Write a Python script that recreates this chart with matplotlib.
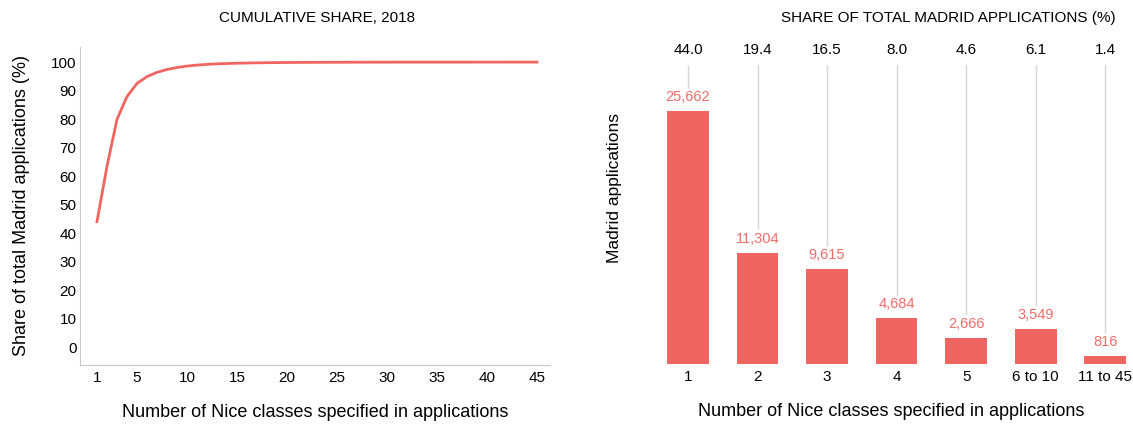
import matplotlib.pyplot as plt

plt.rcParams['font.family'] = ['Liberation Sans', 'DejaVu Sans']

# cumulative share of Madrid applications by number of classes (left)
classes = list(range(1, 46))
cum_share = [44.0, 63.4, 79.9, 87.9, 92.5, 94.9, 96.4, 97.4, 98.1, 98.6,
             98.95, 99.2, 99.38, 99.5, 99.6, 99.68, 99.74, 99.79, 99.83, 99.86,
             99.88, 99.9, 99.92, 99.93, 99.94, 99.95, 99.96, 99.965, 99.97, 99.975,
             99.98, 99.98, 99.985, 99.985, 99.99, 99.99, 99.99, 99.992, 99.994, 99.995,
             99.996, 99.997, 99.998, 99.999, 100.0]

# applications per class group (right)
groups = ['1', '2', '3', '4', '5', '6 to 10', '11 to 45']
apps = [25662, 11304, 9615, 4684, 2666, 3549, 816]
shares = [44.0, 19.4, 16.5, 8.0, 4.6, 6.1, 1.4]

red = '#ef6561'
label_red = '#f26c68'
grey = '#c8c8c8'

W, H = 1133, 426
fig = plt.figure(figsize=(W / 100, H / 100), dpi=100)

# ---- left: cumulative share
ax1 = fig.add_axes([0.0706, 0.1432, 0.4148, 0.7465])
ax1.plot(classes, cum_share, color=red, lw=2)
ax1.set_xlim(-0.7, 46.3)
ax1.set_ylim(-6.3, 105.3)
ax1.set_xticks([1, 5, 10, 15, 20, 25, 30, 35, 40, 45])
ax1.set_yticks(range(0, 101, 10))
ax1.tick_params(length=0, labelsize=11)
ax1.tick_params(axis='x', pad=4)
ax1.tick_params(axis='y', pad=2.5)
for s in ['top', 'right']:
    ax1.spines[s].set_visible(False)
for s in ['left', 'bottom']:
    ax1.spines[s].set_color(grey)
fig.text(317 / W, 1 - 18 / H, 'CUMULATIVE SHARE, 2018', ha='center', va='center', fontsize=11)
ax1.set_xlabel('Number of Nice classes specified in applications', fontsize=13, labelpad=14)
ax1.set_ylabel('Share of total Madrid applications (%)', fontsize=13, labelpad=15)

# ---- right: bars
ax2 = fig.add_axes([0.5737, 0.1455, 0.4263, 0.7019])
top = 30330
x = list(range(len(groups)))
ax2.bar(x, apps, width=0.6, color=red)
for i, v in enumerate(apps):
    ax2.text(i, v + 700, f'{v:,}', ha='center', va='bottom', color=label_red, fontsize=10.5)
    ax2.vlines(i, v + 2350, top, color='#d6d6d6', lw=1)
    ax2.text(i, (364 - 50) / 299, f'{shares[i]:.1f}', transform=ax2.get_xaxis_transform(),
             ha='center', va='center', fontsize=11)
ax2.set_xlim(-0.547, 6.4)
ax2.set_ylim(0, top)
ax2.set_xticks(x)
ax2.set_xticklabels(groups)
ax2.set_yticks([])
ax2.tick_params(length=0, labelsize=11, pad=4)
for s in ax2.spines.values():
    s.set_visible(False)
fig.text(948 / W, 1 - 18 / H, 'SHARE OF TOTAL MADRID APPLICATIONS (%)', ha='center', va='center', fontsize=11)
ax2.set_xlabel('Number of Nice classes specified in applications', fontsize=13, labelpad=14)
fig.text(615 / W, 1 - 188 / H, 'Madrid applications', rotation=90, ha='center', va='center', fontsize=12.5)

fig.savefig('out.png', dpi=100)
